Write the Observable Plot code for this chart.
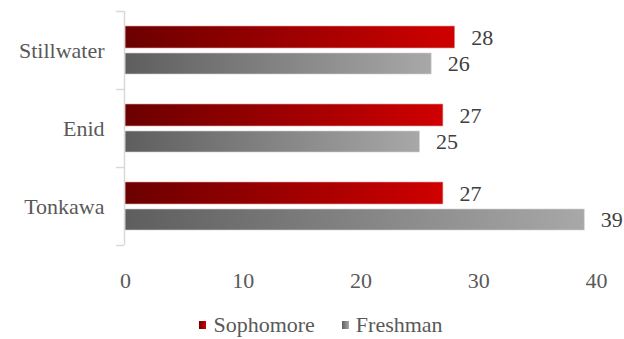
<!DOCTYPE html>
<html>
<head>
<meta charset="utf-8">
<script src="https://cdn.jsdelivr.net/npm/d3@7"></script>
<script src="https://cdn.jsdelivr.net/npm/@observablehq/plot@0.6"></script>
<style>
  html, body { margin: 0; padding: 0; background: #fff; }
  body { width: 624px; height: 339px; overflow: hidden; font-family: "Liberation Serif", serif; font-size: 22px; }
  #legend { display: flex; justify-content: center; align-items: center; height: 39px; gap: 27px; font-size: 22px; color: #595959; transform: translate(9px, 5px); }
  .item { display: flex; align-items: center; gap: 7px; }
  .sw { width: 7px; height: 8px; display: inline-block; }
</style>
</head>
<body>
<div id="chart"></div>
<div id="legend"></div>
<script>
const cities = ["Stillwater", "Enid", "Tonkawa"];
const sophomore = [28, 27, 27];
const freshman = [26, 25, 39];
const seriesNames = ["Sophomore", "Freshman"];
const xTicks = [0, 10, 20, 30, 40];

const soph = cities.map((c, i) => ({city: c, value: sophomore[i]}));
const fresh = cities.map((c, i) => ({city: c, value: freshman[i]}));

const font = "Liberation Serif";
const svg = Plot.plot({
  width: 624,
  height: 300,
  marginLeft: 125,
  marginRight: 28,
  marginTop: 11,
  marginBottom: 55,
  style: {fontFamily: font, fontSize: "22px", background: "#fff", overflow: "visible"},
  x: {domain: [0, 40], ticks: xTicks},
  y: {domain: cities, padding: 0},
  marks: [
    Plot.barX(soph, {x: "value", y: "city", insetTop: 15, insetBottom: 41, fill: "url(#gradRed)", stroke: "#e8a0a0", strokeWidth: 0.6}),
    Plot.barX(fresh, {x: "value", y: "city", insetTop: 42, insetBottom: 15, fill: "url(#gradGray)", stroke: "#d0d0d0", strokeWidth: 0.6}),
    Plot.text(soph, {x: "value", y: "city", text: d => String(d.value), dx: 16, dy: -13, textAnchor: "start", fill: "#404040", fontSize: 22}),
    Plot.text(fresh, {x: "value", y: "city", text: d => String(d.value), dx: 16, dy: 13.5, textAnchor: "start", fill: "#404040", fontSize: 22}),
    Plot.ruleX([0], {stroke: "#d9d9d9", strokeWidth: 1.5, dx: -1}),
    Plot.ruleY(cities, {y: d => d, x1: -0.68, x2: 0, dx: -1, dy: -39, stroke: "#d9d9d9", strokeWidth: 1.5}),
    Plot.ruleY([cities[cities.length - 1]], {y: d => d, x1: -0.68, x2: 0, dx: -1, dy: 39, stroke: "#d9d9d9", strokeWidth: 1.5}),
    Plot.axisY({tickSize: 0, tickPadding: 21, fill: "#595959", fontSize: 22, label: null}),
    Plot.axisX({tickSize: 0, tickPadding: 27, fill: "#595959", fontSize: 22, label: null, ticks: xTicks, tickFormat: d => String(d)})
  ]
});

const ns = "http://www.w3.org/2000/svg";
const defs = document.createElementNS(ns, "defs");
function grad(id, c0, c1) {
  const g = document.createElementNS(ns, "linearGradient");
  g.setAttribute("id", id);
  g.setAttribute("x1", "0"); g.setAttribute("x2", "1"); g.setAttribute("y1", "0"); g.setAttribute("y2", "0");
  [[0, c0], [1, c1]].forEach(([o, c]) => {
    const s = document.createElementNS(ns, "stop");
    s.setAttribute("offset", o);
    s.setAttribute("stop-color", c);
    g.appendChild(s);
  });
  defs.appendChild(g);
}
grad("gradRed", "#6b0000", "#cf0000");
grad("gradGray", "#5e5e5e", "#a8a8a8");
svg.insertBefore(defs, svg.firstChild);
document.getElementById("chart").appendChild(svg);

const legendColors = {Sophomore: ["#6b0000", "#cf0000"], Freshman: ["#5e5e5e", "#a8a8a8"]};
const legend = document.getElementById("legend");
seriesNames.forEach(name => {
  const item = document.createElement("span");
  item.className = "item";
  const sw = document.createElement("span");
  sw.className = "sw";
  sw.style.background = `linear-gradient(to right, ${legendColors[name][0]}, ${legendColors[name][1]})`;
  const t = document.createElement("span");
  t.textContent = name;
  item.appendChild(sw);
  item.appendChild(t);
  legend.appendChild(item);
});
</script>
</body>
</html>
